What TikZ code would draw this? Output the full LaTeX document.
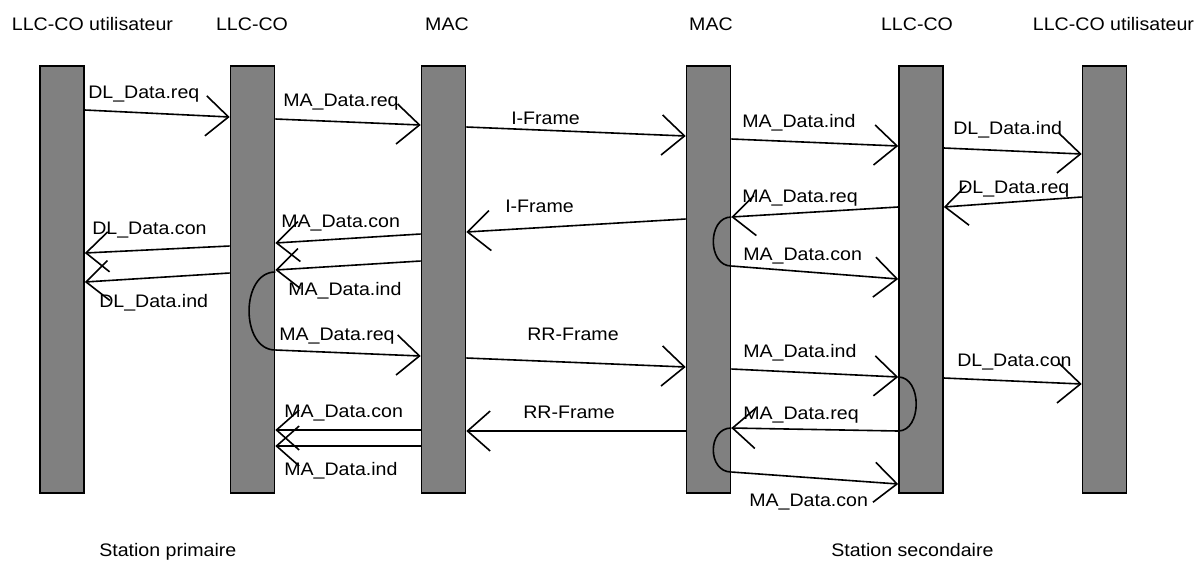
\documentclass[tikz,border=0pt]{standalone}
\usepackage{fontspec}
\setmainfont{Liberation Sans}[FakeStretch=1.08]
\usetikzlibrary{arrows.meta}
\definecolor{barfill}{RGB}{128,128,128}
\tikzset {
    every node/.style={font=\fontsize{13.6}{16}\selectfont, inner sep=0pt},
    bar/.style={draw, line width=1.2pt, fill=barfill, minimum width=33pt, minimum height=320pt},
    msg/.style={-{Straight Barb[length=17pt, width=30pt]}, line width=1.2pt},
    turn/.style={line width=1.2pt},
    lbl/.style={anchor=base west},
    head/.style={anchor=base}
}

\begin{document}
\begin{tikzpicture}[x=0.75pt, y=-0.75pt]
                \useasboundingbox (0,0) rectangle (1197,562);

                % entities
                \node[bar] (usrA) at (62,279.5) {};
                \node[bar] (llcA) at (252.5,279.5) {};
                \node[bar] (macA) at (443.5,279.5) {};
                \node[bar] (macB) at (708.5,279.5) {};
                \node[bar] (llcB) at (921,279.5) {};
                \node[bar] (usrB) at (1104.5,279.5) {};

                \node[head] (hUsrA) at (92.5,30) {LLC-CO utilisateur};
                \node[head] (hLlcA) at (252,30) {LLC-CO};
                \node[head] (hMacA) at (447,30) {MAC};
                \node[head] (hMacB) at (711,30) {MAC};
                \node[head] (hLlcB) at (917,30) {LLC-CO};
                \node[head] (hUsrB) at (1113.5,30) {LLC-CO utilisateur};

                \node[lbl] (fA) at (99,556) {Station primaire};
                \node[lbl] (fB) at (831,556) {Station secondaire};

                % I-Frame
                \draw[msg] (usrA.east |- 0,110) -- (llcA.west |- 0,117);
                \draw[msg] (llcA.east |- 0,119) -- (macA.west |- 0,125);
                \draw[msg] (macA.east |- 0,127) -- (macB.west |- 0,136);
                \draw[msg] (macB.east |- 0,139) -- (llcB.west |- 0,146);
                \draw[msg] (llcB.east |- 0,148) -- (usrB.west |- 0,154);
                \node[lbl] (l1) at (88,98) {DL\_Data.req};
                \node[lbl] (l2) at (283,106) {MA\_Data.req};
                \node[lbl] (l3) at (511,124) {I-Frame};
                \node[lbl] (l4) at (742,127) {MA\_Data.ind};
                \node[lbl] (l5) at (953,134) {DL\_Data.ind};

                \draw[msg] (usrB.west |- 0,197) -- (llcB.east |- 0,207);
                \draw[msg] (llcB.west |- 0,207) -- (macB.east |- 0,217);
                \draw[turn] (macB.east |- 0,217) .. controls +(-24,0) and +(-24,0) .. (macB.east |- 0,266);
                \draw[msg] (macB.east |- 0,266) -- (llcB.west |- 0,279);
                \draw[msg] (macB.west |- 0,219) -- (macA.east |- 0,232);
                \draw[msg] (macA.west |- 0,234) -- (llcA.east |- 0,243);
                \draw[msg] (macA.west |- 0,261) -- (llcA.east |- 0,270);
                \draw[msg] (llcA.west |- 0,246) -- (usrA.east |- 0,253);
                \draw[msg] (llcA.west |- 0,273) -- (usrA.east |- 0,282);
                \node[lbl] (l6) at (958,193) {DL\_Data.req};
                \node[lbl] (l7) at (742,202) {MA\_Data.req};
                \node[lbl] (l8) at (743,260) {MA\_Data.con};
                \node[lbl] (l9) at (505,212) {I-Frame};
                \node[lbl] (l10) at (281,227) {MA\_Data.con};
                \node[lbl] (l11) at (288,295) {MA\_Data.ind};
                \node[lbl] (l12) at (92,234) {DL\_Data.con};
                \node[lbl] (l13) at (99,307) {DL\_Data.ind};

                % RR-Frame
                \draw[turn] (llcA.east |- 0,272) .. controls +(-35,0) and +(-35,0) .. (llcA.east |- 0,350);
                \draw[msg] (llcA.east |- 0,350) -- (macA.west |- 0,356);
                \draw[msg] (macA.east |- 0,358) -- (macB.west |- 0,367);
                \draw[msg] (macB.east |- 0,369) -- (llcB.west |- 0,377);
                \draw[turn] (llcB.west |- 0,377) .. controls +(24,0) and +(24,0) .. (llcB.west |- 0,431);
                \draw[msg] (llcB.east |- 0,378) -- (usrB.west |- 0,384);
                \node[lbl] (l14) at (279,340) {MA\_Data.req};
                \node[lbl] (l15) at (527,340) {RR-Frame};
                \node[lbl] (l16) at (743,357) {MA\_Data.ind};
                \node[lbl] (l17) at (957,366) {DL\_Data.con};

                \draw[msg] (llcB.west |- 0,431) -- (macB.east |- 0,428);
                \draw[turn] (macB.east |- 0,428) .. controls +(-24,0) and +(-24,0) .. (macB.east |- 0,472);
                \draw[msg] (macB.east |- 0,472) -- (llcB.west |- 0,484);
                \draw[msg] (macB.west |- 0,431) -- (macA.east |- 0,431);
                \draw[msg] (macA.west |- 0,430) -- (llcA.east |- 0,430);
                \draw[msg] (macA.west |- 0,446) -- (llcA.east |- 0,446);
                \node[lbl] (l18) at (743,419) {MA\_Data.req};
                \node[lbl] (l19) at (749,506) {MA\_Data.con};
                \node[lbl] (l20) at (523,418) {RR-Frame};
                \node[lbl] (l21) at (284,417) {MA\_Data.con};
                \node[lbl] (l22) at (284,475) {MA\_Data.ind};
\end{tikzpicture}
\end{document}
